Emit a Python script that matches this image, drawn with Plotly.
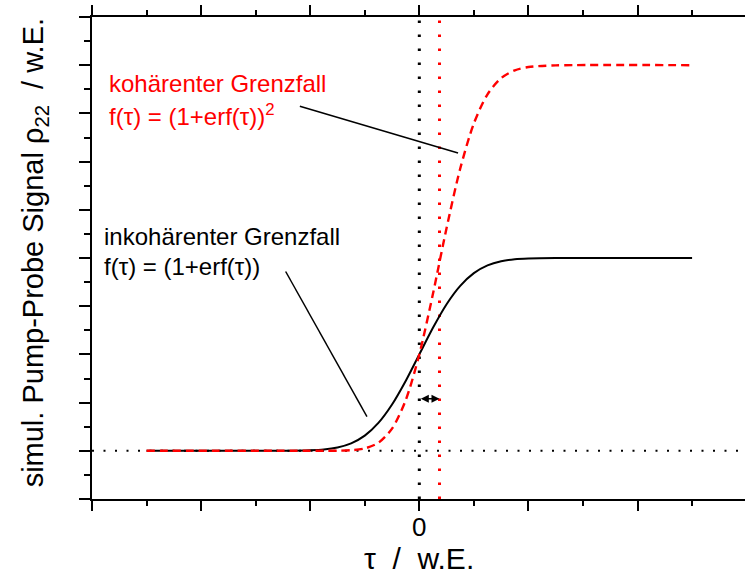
import plotly.graph_objects as go

# ---- data ----
tau = [-5, -2.5, -2, -1.75, -1.5, -1.25, -1, -0.75, -0.5, -0.25, 0,
       0.25, 0.5, 0.75, 1, 1.25, 1.5, 1.75, 2, 2.5, 5]
incoherent = [0, 0.0, 0.005, 0.013, 0.034, 0.077, 0.157, 0.289, 0.480, 0.724, 1.0,
              1.276, 1.521, 1.711, 1.843, 1.923, 1.966, 1.987, 1.995, 2.0, 2.0]
coherent = [0, 0.0, 0.0, 0.0, 0.001, 0.006, 0.025, 0.083, 0.230, 0.524, 1.0,
            1.629, 2.312, 2.928, 3.396, 3.698, 3.866, 3.947, 3.981, 3.998, 4.0]
tau_zero = 0.0
tau_shift = 0.37          # half-maximum of the coherent curve
x_major = [-6, -4, -2, 0, 2, 4]
x_minor = [-5, -3, -1, 1, 3, 5]
x_label_pos = [0]
x_label_text = ["0"]

FONT = "Liberation Sans, Arial, Helvetica, sans-serif"

fig = go.Figure()
fig.add_trace(go.Scatter(x=tau, y=incoherent, mode="lines",
                         line=dict(color="black", width=2, shape="spline", smoothing=0.8),
                         showlegend=False, hoverinfo="skip"))
fig.add_trace(go.Scatter(x=tau, y=coherent, mode="lines",
                         line=dict(color="red", width=2.4, dash="8px,5px", shape="spline", smoothing=0.8),
                         showlegend=False, hoverinfo="skip"))

shapes = [
    dict(type="line", xref="x", yref="paper", x0=tau_zero, x1=tau_zero, y0=0, y1=1,
         line=dict(color="black", width=3, dash="2.5px,11.5px"), layer="below"),
    dict(type="line", xref="x", yref="paper", x0=tau_shift, x1=tau_shift, y0=0, y1=1,
         line=dict(color="red", width=3, dash="2.5px,11.5px"), layer="below"),
    dict(type="line", xref="paper", yref="y", x0=0, x1=1, y0=0, y1=0,
         line=dict(color="black", width=2, dash="2px,9.5px"), layer="below"),
    # pointer lines
    dict(type="line", xref="x", yref="y", x0=-2.19, y0=3.575, x1=0.71, y1=3.09,
         line=dict(color="black", width=1.5)),
    dict(type="line", xref="x", yref="y", x0=-2.45, y0=1.86, x1=-0.96, y1=0.355,
         line=dict(color="black", width=1.5)),
]

annotations = [
    dict(x=-5.733, y=3.81, xref="x", yref="y", xanchor="left", yanchor="middle",
         text="kohärenter Grenzfall", showarrow=False,
         font=dict(family=FONT, size=24, color="red")),
    dict(x=-5.733, y=3.48, xref="x", yref="y", xanchor="left", yanchor="middle",
         text="f(τ) = (1+erf(τ))<sup>2</sup>", showarrow=False,
         font=dict(family=FONT, size=24, color="red")),
    dict(x=-5.81, y=2.218, xref="x", yref="y", xanchor="left", yanchor="middle",
         text="inkohärenter Grenzfall", showarrow=False,
         font=dict(family=FONT, size=24, color="black")),
    dict(x=-5.81, y=1.907, xref="x", yref="y", xanchor="left", yanchor="middle",
         text="f(τ) = (1+erf(τ))", showarrow=False,
         font=dict(family=FONT, size=24, color="black")),
    # double arrow
    dict(x=tau_shift, y=0.54, ax=tau_zero, ay=0.54, xref="x", yref="y", axref="x", ayref="y",
         text="", showarrow=True, arrowside="end+start", arrowhead=2, arrowsize=1.0,
         arrowwidth=1.6, arrowcolor="black", standoff=0, startstandoff=0),
    # y title
    dict(x=-0.087, y=0.51, xref="paper", yref="paper", xanchor="center", yanchor="middle",
         textangle=-90, showarrow=False,
         text="simul. Pump-Probe Signal ρ<sub>22</sub>  / w.E.",
         font=dict(family=FONT, size=29, color="black")),
    # x title
    dict(x=0.5, y=-0.1235, xref="paper", yref="paper", xanchor="center", yanchor="middle",
         showarrow=False, text="τ  /  w.E.",
         font=dict(family=FONT, size=30, color="black")),
]
# x tick label(s)
for pos, txt in zip(x_label_pos, x_label_text):
    annotations.append(dict(x=pos, y=-0.058, xref="x", yref="paper", xanchor="center",
                            yanchor="middle", showarrow=False, text=txt,
                            font=dict(family=FONT, size=26, color="black")))

fig.update_layout(
    template="none",
    width=745, height=574,
    margin=dict(l=92, r=0, t=17, b=75, autoexpand=False),
    plot_bgcolor="white", paper_bgcolor="white",
    font=dict(family=FONT, color="black"),
    shapes=shapes, annotations=annotations,
    showlegend=False,
    xaxis=dict(range=[-6, 5.97], automargin=False, showgrid=False, zeroline=False,
               showline=True, linecolor="black", linewidth=2, mirror="ticks",
               ticks="outside", ticklen=10, tickwidth=2, tickcolor="black",
               tickmode="array", tickvals=x_major, showticklabels=False,
               minor=dict(tickmode="array", tickvals=x_minor, ticks="outside",
                          ticklen=5, tickwidth=2, tickcolor="black", showgrid=False)),
    yaxis=dict(range=[-0.5, 4.5], automargin=False, showgrid=False, zeroline=False,
               showline=True, linecolor="black", linewidth=2, mirror=False,
               ticks="outside", ticklen=11, tickwidth=2, tickcolor="black",
               tickmode="linear", tick0=0, dtick=0.5, showticklabels=False,
               minor=dict(tickmode="linear", tick0=0.25, dtick=0.5, ticks="outside",
                          ticklen=6, tickwidth=2, tickcolor="black", showgrid=False)),
)

fig.write_html("out.html")
